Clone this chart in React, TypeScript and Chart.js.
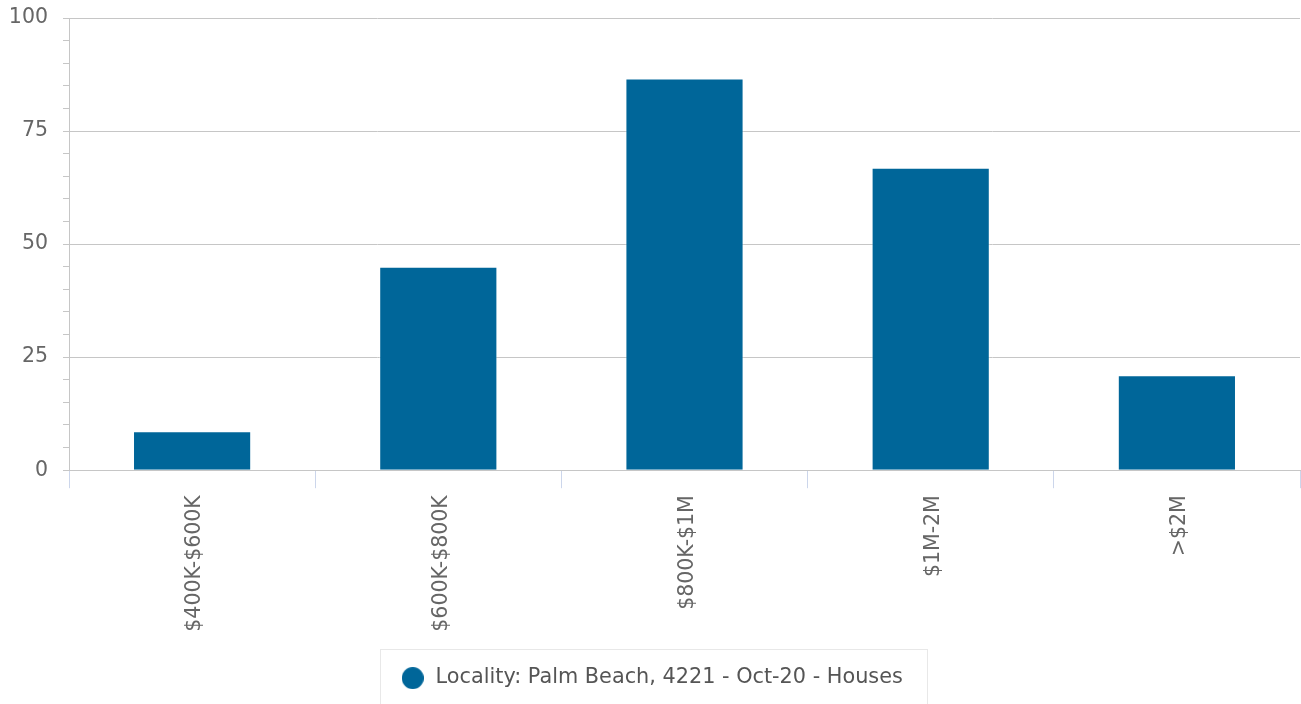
import React, { useEffect, useRef } from "react";
import { Chart, registerables } from "chart.js";

Chart.register(...registerables);

const categories = ["$400K-$600K", "$600K-$800K", "$800K-$1M", "$1M-2M", ">$2M"];
const values = [8.6, 45, 86.6, 66.9, 21];
const seriesLabel = "Locality: Palm Beach, 4221 - Oct-20 - Houses";
const yMin = 0;
const yMax = 100;
const yMajorStep = 25;
const yMinorStep = 5;

const FONT = "'DejaVu Sans', sans-serif";
const BAR_COLOR = "#006699";
const GRID = "#c6c6c6";
const XTICK = "#ccd6eb";

function makeDot(diameter: number, color: string) {
  const c = document.createElement("canvas");
  c.width = diameter;
  c.height = diameter;
  const g = c.getContext("2d");
  if (g) {
    g.fillStyle = color;
    g.beginPath();
    g.arc(diameter / 2, diameter / 2, diameter / 2, 0, Math.PI * 2);
    g.fill();
  }
  return c;
}

const legendBoxPlugin = {
  id: "legendBox",
  afterDraw(chart: any) {
    const lg = chart.legend;
    if (!lg || !lg.legendHitBoxes || !lg.legendHitBoxes.length) return;
    const hb = lg.legendHitBoxes[0];
    const ctx = chart.ctx;
    const cy = hb.top + hb.height / 2;
    const left = Math.round(hb.left - 20) + 0.5;
    const right = Math.round(hb.left + hb.width + 24) + 0.5;
    const top = Math.round(cy - 29) + 0.5;
    ctx.save();
    ctx.strokeStyle = "#e8e8e8";
    ctx.lineWidth = 1;
    ctx.strokeRect(left, top, right - left, 80);
    ctx.restore();
  },
};

export default function App() {
  const ref = useRef<HTMLCanvasElement | null>(null);
  useEffect(() => {
    document.body.style.margin = "0";
    const canvas = ref.current;
    if (!canvas) return;
    const dot = makeDot(22, BAR_COLOR);
    const chart = new Chart(canvas, {
      type: "bar",
      data: {
        labels: categories,
        datasets: [
          {
            label: seriesLabel,
            data: values,
            backgroundColor: BAR_COLOR,
            borderColor: "rgba(255,255,255,0.45)",
            borderWidth: 1,
            categoryPercentage: 0.6,
            barPercentage: 0.8,
            pointStyle: dot as any,
          },
        ],
      },
      options: {
        animation: false,
        responsive: false,
        maintainAspectRatio: false,
        devicePixelRatio: 1,
        layout: { padding: { top: 18, right: 1, left: 3, bottom: 5.5 } },
        plugins: {
          tooltip: { enabled: false },
          legend: {
            position: "bottom",
            labels: {
              usePointStyle: true,
              pointStyleWidth: 25,
              boxWidth: 25,
              boxHeight: 15.6,
              color: "#555555",
              font: { family: FONT, size: 20.8 },
              padding: 10,
            },
          },
        },
        scales: {
          x: {
            afterFit(scale: any) {
              scale.height = 187.5;
            },
            grid: {
              drawOnChartArea: false,
              tickLength: 18,
              tickColor: XTICK,
              color: XTICK,
              offset: true,
            },
            border: { color: GRID },
            ticks: {
              minRotation: 90,
              maxRotation: 90,
              color: "#666666",
              padding: 7,
              labelOffset: 3,
              font: { family: FONT, size: 20.5 },
              autoSkip: false,
            },
          },
          y: {
            min: yMin,
            max: yMax,
            afterFit(scale: any) {
              scale.width = 66;
              scale.paddingTop = 0;
              scale.paddingBottom = 0;
            },
            grid: {
              tickLength: 6,
              color: (ctx: any) =>
                ctx.tick && ctx.tick.value % yMajorStep === 0 ? GRID : "rgba(0,0,0,0)",
              tickColor: GRID,
            },
            border: { color: GRID },
            ticks: {
              stepSize: yMinorStep,
              autoSkip: false,
              color: "#666666",
              padding: 15,
              font: { family: FONT, size: 20.5 },
              callback: (v: any) => (Number(v) % yMajorStep === 0 ? String(v) : ""),
            },
          },
        },
      },
      plugins: [legendBoxPlugin],
    });
    return () => chart.destroy();
  }, []);
  return (
    <div style={{ position: "fixed", left: 0, top: 0, width: 1301, height: 704, background: "#fff" }}>
      <canvas ref={ref} width={1301} height={704} style={{ width: 1301, height: 704, display: "block" }} />
    </div>
  );
}
